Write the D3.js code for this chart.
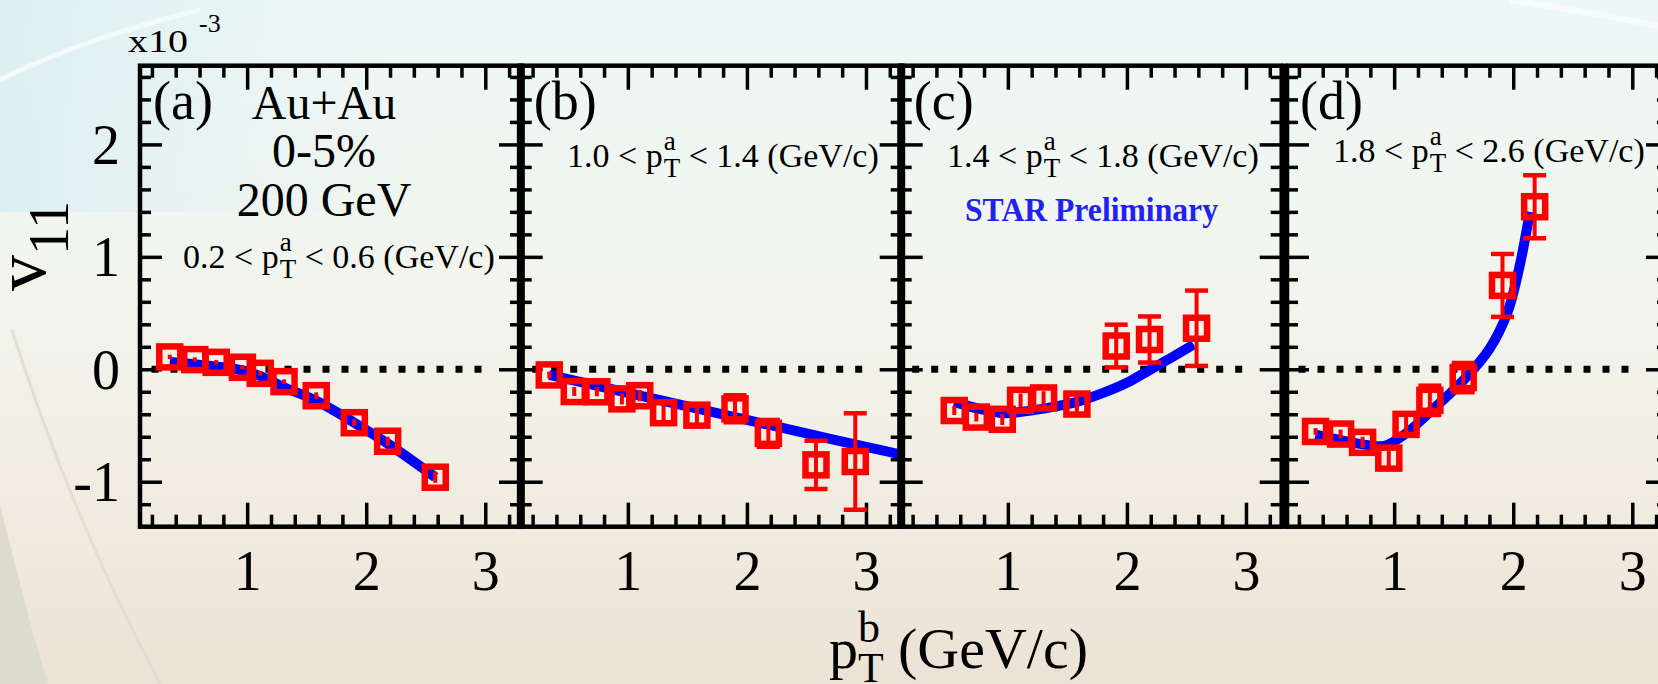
<!DOCTYPE html>
<html>
<head>
<meta charset="utf-8">
<script src="https://cdn.jsdelivr.net/npm/d3@7"></script>
<style>
  html, body { margin: 0; padding: 0; overflow: hidden; background: #f1f2ea; }
  svg { display: block; }
  text { font-family: "Liberation Serif", "Times New Roman", serif; fill: #000; }
</style>
</head>
<body>
<svg id="chart" width="1658" height="684"></svg>
<script>
// ---- data -------------------------------------------------------------
const panelTags = ["(a)", "(b)", "(c)", "(d)"];
const paLow  = ["0.2", "1.0", "1.4", "1.8"];
const paHigh = ["0.6", "1.4", "1.8", "2.6"];

const xTickLabels = [1, 2, 3];
const yTickLabels = [-1, 0, 1, 2];

// measured v11 (x10^-3) vs pT^b, one set per pT^a window
const ptA  = [0.35, 0.56, 0.74, 0.96, 1.11, 1.31, 1.58, 1.90, 2.18, 2.58];
const v11A = [0.11, 0.086, 0.062, 0.018, -0.036, -0.11, -0.235, -0.475, -0.64, -0.96];
const errA = [0.02, 0.02, 0.02, 0.02, 0.02, 0.02, 0.03, 0.03, 0.04, 0.05];

const ptB  = [0.34, 0.55, 0.74, 0.95, 1.10, 1.30, 1.58, 1.90, 2.18, 2.58, 2.91];
const v11B = [-0.05, -0.198, -0.20, -0.263, -0.235, -0.386, -0.408, -0.352, -0.57, -0.85, -0.82];
const errB = [0.03, 0.04, 0.04, 0.05, 0.05, 0.07, 0.08, 0.12, 0.12, 0.215, 0.43];

const ptC  = [0.55, 0.735, 0.953, 1.107, 1.30, 1.58, 1.91, 2.19, 2.585];
const v11C = [-0.367, -0.425, -0.445, -0.276, -0.255, -0.309, 0.207, 0.265, 0.365];
const errC = [0.04, 0.04, 0.05, 0.06, 0.06, 0.07, 0.19, 0.205, 0.335];

const ptD  = [0.34, 0.55, 0.735, 0.955, 1.10, 1.30, 1.58, 1.91, 2.18];
const v11D = [-0.553, -0.576, -0.65, -0.79, -0.49, -0.276, -0.074, 0.746, 1.446];
const errD = [0.03, 0.04, 0.05, 0.07, 0.08, 0.13, 0.13, 0.28, 0.28];

// model curves
const fitXA = [0.35, 0.56, 0.74, 0.96, 1.11, 1.31, 1.58, 1.90, 2.18, 2.58];
const fitYA = [0.065, 0.045, 0.025, -0.01, -0.06, -0.16, -0.28, -0.475, -0.66, -0.96];
const fitXB = [0.34, 1.0, 1.5, 2.0, 2.5, 3.0, 3.3];
const fitYB = [-0.05, -0.21, -0.33, -0.45, -0.57, -0.69, -0.76];
const fitXC = [0.55, 0.75, 0.95, 1.1, 1.3, 1.58, 1.8, 2.0, 2.2, 2.4, 2.56];
const fitYC = [-0.29, -0.35, -0.39, -0.38, -0.35, -0.29, -0.21, -0.12, 0.0, 0.12, 0.22];
const fitXD = [0.34, 0.55, 0.75, 0.92, 1.1, 1.3, 1.58, 1.8, 1.95, 2.05, 2.14];
const fitYD = [-0.58, -0.63, -0.67, -0.68, -0.57, -0.38, -0.10, 0.18, 0.50, 0.90, 1.40];

const panels = [
  { x: ptA, y: v11A, e: errA, fx: fitXA, fy: fitYA },
  { x: ptB, y: v11B, e: errB, fx: fitXB, fy: fitYB },
  { x: ptC, y: v11C, e: errC, fx: fitXC, fy: fitYC },
  { x: ptD, y: v11D, e: errD, fx: fitXD, fy: fitYD }
];

// ---- layout -----------------------------------------------------------
const W = 1658, H = 684;
const panelLeft = [140, 520.7, 900.7, 1287];
const panelW = 381;
const plotTop = 65.7, plotBottom = 526.7;
const xDomain = [0.1, 3.3];
const yDomain = [-1.4, 2.7];
const FONT = '"Liberation Serif", "Times New Roman", serif';

const svg = d3.select("#chart");
const defs = svg.append("defs");

// background wash
const grad = defs.append("linearGradient").attr("id", "bg")
  .attr("x1", 0).attr("y1", 0).attr("x2", 0).attr("y2", 1);
grad.append("stop").attr("offset", "0%").attr("stop-color", "#ecf7f6");
grad.append("stop").attr("offset", "40%").attr("stop-color", "#f2f5ee");
grad.append("stop").attr("offset", "70%").attr("stop-color", "#f1ede3");
grad.append("stop").attr("offset", "100%").attr("stop-color", "#ece2d5");
svg.append("rect").attr("width", W).attr("height", H).attr("fill", "url(#bg)");

const gradL = defs.append("linearGradient").attr("id", "bgl")
  .attr("x1", 0).attr("y1", 0).attr("x2", 1).attr("y2", 0);
gradL.append("stop").attr("offset", "0%").attr("stop-color", "#dceef1").attr("stop-opacity", 0.95);
gradL.append("stop").attr("offset", "100%").attr("stop-color", "#e6f3f4").attr("stop-opacity", 0);
svg.append("rect").attr("x", 0).attr("y", 0).attr("width", 420).attr("height", 212)
  .attr("fill", "url(#bgl)");

svg.append("path")
  .attr("d", "M0,505 C14,560 30,625 48,684 L0,684 Z")
  .attr("fill", "#dcdbcd");
svg.append("path")
  .attr("d", "M12,330 C50,450 100,570 160,684")
  .attr("fill", "none").attr("stroke", "#e4ded2").attr("stroke-width", 3);
svg.append("path")
  .attr("d", "M0,80 C60,50 120,30 200,10")
  .attr("fill", "none").attr("stroke", "#f4fafa").attr("stroke-width", 5);
svg.append("path")
  .attr("d", "M1510,0 C1560,8 1610,16 1658,26")
  .attr("fill", "none").attr("stroke", "#f8fbfb").attr("stroke-width", 6);

// ---- panels -----------------------------------------------------------
const redC = "#ff0000", blueC = "#0000ff";
const minorX = d3.range(2, 33, 2).map(v => v / 10).filter(v => v > 0.1 && v < 3.3 && ![1, 2, 3].includes(v));
const minorY = d3.range(-12, 27, 2).map(v => v / 10).filter(v => ![-1, 0, 1, 2].includes(v));

function styleTicks(g) {
  g.select(".domain").remove();
  g.selectAll(".tick line").attr("stroke", "#000").attr("stroke-width", 3.5);
}

panels.forEach((p, i) => {
  const L = panelLeft[i];
  const x = d3.scaleLinear().domain(xDomain).range([L, L + panelW]);
  const y = d3.scaleLinear().domain(yDomain).range([plotBottom, plotTop]);
  const g = svg.append("g");

  defs.append("clipPath").attr("id", "clip" + i)
    .append("rect").attr("x", L).attr("y", plotTop).attr("width", panelW).attr("height", plotBottom - plotTop);

  // ticks, all pointing inward
  const tickSets = [
    [d3.axisBottom(x).tickValues(minorX).tickSize(-12), `translate(0,${plotBottom})`],
    [d3.axisBottom(x).tickValues(xTickLabels).tickSize(-24), `translate(0,${plotBottom})`],
    [d3.axisTop(x).tickValues(minorX).tickSize(-12), `translate(0,${plotTop})`],
    [d3.axisTop(x).tickValues(xTickLabels).tickSize(-24), `translate(0,${plotTop})`],
    [d3.axisLeft(y).tickValues(minorY).tickSize(-11), `translate(${L},0)`],
    [d3.axisLeft(y).tickValues(yTickLabels).tickSize(-22), `translate(${L},0)`],
    [d3.axisRight(y).tickValues(minorY).tickSize(-11), `translate(${L + panelW},0)`],
    [d3.axisRight(y).tickValues(yTickLabels).tickSize(-22), `translate(${L + panelW},0)`]
  ];
  tickSets.forEach(([ax, tr]) => {
    g.append("g").attr("transform", tr).call(ax.tickFormat("")).call(styleTicks);
  });

  // x tick labels
  g.append("g").attr("transform", `translate(0,${plotBottom})`)
    .call(d3.axisBottom(x).tickValues(xTickLabels).tickSize(0).tickFormat(d => String(d)))
    .call(a => {
      a.select(".domain").remove();
      a.selectAll("text").attr("y", 590 - plotBottom).attr("dy", null)
        .style("font-family", FONT).style("font-size", "56px").attr("fill", "#000");
    });

  // y tick labels on the leftmost panel only
  if (i === 0) {
    g.append("g").attr("transform", `translate(${L},0)`)
      .call(d3.axisLeft(y).tickValues(yTickLabels).tickSize(0).tickFormat(d => String(d)))
      .call(a => {
        a.select(".domain").remove();
        a.selectAll("text").attr("x", 120 - L).attr("dy", "0.34em")
          .style("font-family", FONT).style("font-size", "56px").attr("fill", "#000");
      });
  }

  const inner = g.append("g").attr("clip-path", `url(#clip${i})`);

  // zero reference
  inner.append("line")
    .attr("x1", x(0.1)).attr("x2", x(3.0))
    .attr("y1", y(0)).attr("y2", y(0))
    .attr("stroke", "#000").attr("stroke-width", 7)
    .attr("stroke-dasharray", "7 12").attr("stroke-dashoffset", 7.5);

  // model curve
  const fit = p.fx.map((v, k) => [v, p.fy[k]]);
  inner.append("path").datum(fit)
    .attr("d", d3.line().x(d => x(d[0])).y(d => y(d[1])).curve(d3.curveCatmullRom.alpha(0.5)))
    .attr("fill", "none").attr("stroke", blueC).attr("stroke-width", 10);

  // error bars
  const pts = p.x.map((v, k) => ({ x: v, y: p.y[k], e: p.e[k] }));
  const eb = inner.append("g").attr("stroke", redC);
  pts.forEach(d => {
    const cx = x(d.x), y0 = y(d.y - d.e), y1 = y(d.y + d.e);
    eb.append("line").attr("x1", cx).attr("x2", cx).attr("y1", y0).attr("y2", y1)
      .attr("stroke-width", 4);
    if (y0 - y(d.y) > 13) {
      [y0, y1].forEach(yy => {
        eb.append("line").attr("x1", cx - 11.5).attr("x2", cx + 11.5)
          .attr("y1", yy).attr("y2", yy).attr("stroke-width", 4.5);
      });
    }
  });

  // open square markers
  inner.append("g").selectAll("rect").data(pts).join("rect")
    .attr("x", d => x(d.x) - 10.5).attr("y", d => y(d.y) - 10.5)
    .attr("width", 21).attr("height", 21)
    .attr("fill", "none").attr("stroke", redC).attr("stroke-width", 6.5);

  // frame
  g.append("rect").attr("x", L).attr("y", plotTop).attr("width", panelW).attr("height", plotBottom - plotTop)
    .attr("fill", "none").attr("stroke", "#000").attr("stroke-width", 4.5);

  // panel tag
  g.append("text").attr("x", L + 13).attr("y", 119)
    .style("font-size", "54px").text(panelTags[i]);
});

// heavier dividers between neighbouring panels
for (let i = 1; i < panelLeft.length; i++) {
  const xm = (panelLeft[i - 1] + panelW + panelLeft[i]) / 2;
  svg.append("line").attr("x1", xm).attr("x2", xm).attr("y1", plotTop - 2).attr("y2", plotBottom + 2)
    .attr("stroke", "#000").attr("stroke-width", 8);
}

// ---- text -------------------------------------------------------------
// one text element: lead, stacked superscript/subscript, tail
function stacked(x0, y0, fs, lead, sup, sub, tail, o) {
  const t = svg.append("text").attr("x", x0).attr("y", y0).style("font-size", fs + "px");
  const s1 = t.append("tspan").text(lead);
  const w1 = s1.node().getComputedTextLength();
  const sx = x0 + w1 + (o.gap || 0);
  const ts = t.append("tspan").attr("x", sx).attr("y", y0 + o.supDy)
    .style("font-size", o.sfs + "px").text(sup);
  const tb = t.append("tspan").attr("x", sx).attr("y", y0 + o.subDy)
    .style("font-size", o.sfs2 + "px").text(sub);
  const w2 = Math.max(ts.node().getComputedTextLength(), tb.node().getComputedTextLength());
  t.append("tspan").attr("x", o.tailX !== undefined ? o.tailX : sx + w2).attr("y", y0).text(tail);
  return t;
}

const labelX = [183, 567, 947, 1333];
const labelY = [268, 167, 167, 162];
panelLeft.forEach((L, i) => {
  stacked(labelX[i], labelY[i], 34, `${paLow[i]} < p`, "a", "T", ` < ${paHigh[i]} (GeV/c)`,
    { supDy: -17, subDy: 10, sfs: 27, sfs2: 27, gap: 1 });
});

// collision system block in panel (a)
const sysLines = [["Au+Au", 119], ["0-5%", 167], ["200 GeV", 216]];
sysLines.forEach(([t, yy]) => {
  svg.append("text").attr("x", 324).attr("y", yy).attr("text-anchor", "middle")
    .style("font-size", "48px").text(t);
});

svg.append("text").attr("x", 965).attr("y", 221)
  .attr("textLength", 253).attr("lengthAdjust", "spacingAndGlyphs")
  .style("font-size", "33px").style("font-weight", "bold").style("fill", "#2222ee")
  .text("STAR Preliminary");

// exponent marker
svg.append("text").attr("x", 128).attr("y", 52).style("font-size", "32px")
  .attr("textLength", 60).attr("lengthAdjust", "spacingAndGlyphs").text("x10");
svg.append("text").attr("x", 199).attr("y", 32).style("font-size", "26px").text("-3");

// y title
const yt = svg.append("text").attr("transform", "translate(45,291) rotate(-90)")
  .style("font-size", "72px");
yt.append("tspan").text("v");
yt.append("tspan").attr("dy", 23).style("font-size", "56px").text("11");

// x title
stacked(829, 668, 58, "p", "b", "T", "(GeV/c)",
  { supDy: -26, subDy: 14, sfs: 44, sfs2: 42, gap: 0, tailX: 898 });
</script>
</body>
</html>
